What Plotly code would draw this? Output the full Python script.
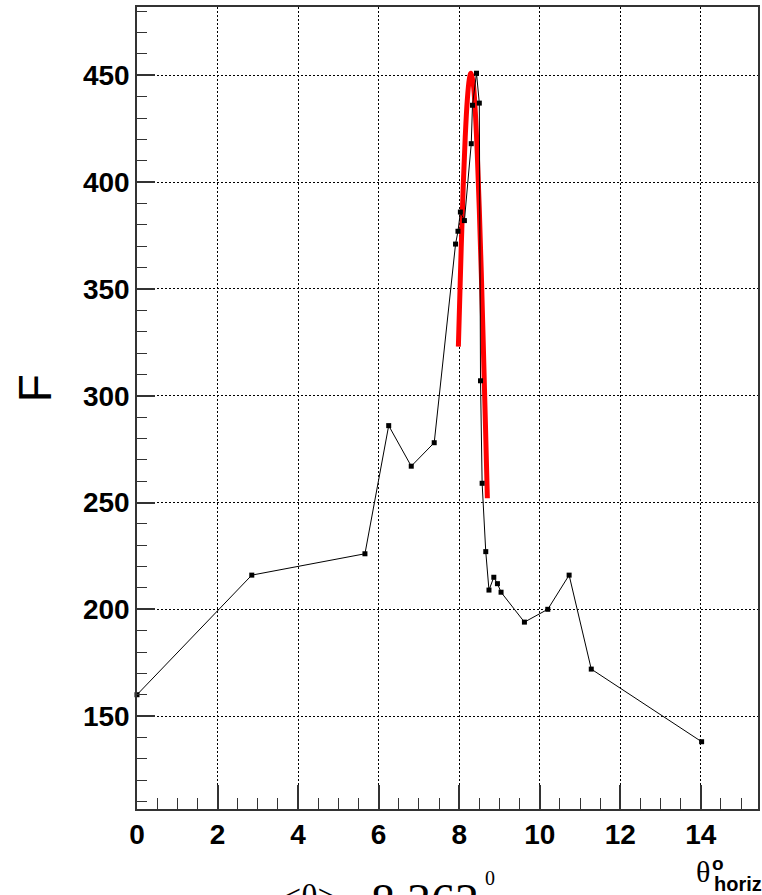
import plotly.graph_objects as go

# measured points (theta_horiz in degrees, F)
theta = [0, 2.85, 5.66, 6.25, 6.81, 7.38, 7.91, 7.97, 8.03, 8.13, 8.30, 8.33,
         8.43, 8.50, 8.53, 8.57, 8.66, 8.74, 8.86, 8.95, 9.04, 9.62, 10.20,
         10.73, 11.28, 14.02]
F_vals = [160, 216, 226, 286, 267, 278, 371, 377, 386, 382, 418, 436,
          451, 437, 307, 259, 227, 209, 215, 212, 208, 194, 200,
          216, 172, 138]

# fitted peak curve
fit_x = [7.98, 8.05, 8.10, 8.15, 8.20, 8.25, 8.29, 8.35, 8.40, 8.45, 8.50,
         8.55, 8.60, 8.65, 8.70]
fit_y = [323, 369, 398, 421, 438, 448, 451, 446, 433, 413, 387, 357, 323,
         288, 252]

mean_text = "8.362"

fig = go.Figure()
fig.add_trace(go.Scatter(x=fit_x, y=fit_y, mode="lines",
                         line=dict(color="#ff0000", width=5, shape="spline"),
                         showlegend=False, hoverinfo="skip"))
fig.add_trace(go.Scatter(x=theta, y=F_vals, mode="lines+markers",
                         line=dict(color="black", width=1),
                         marker=dict(symbol="square", size=5, color="black"),
                         cliponaxis=False, showlegend=False))

tickfont = dict(family="Liberation Sans", size=28, color="black", weight="bold")
grid_dash = "2px,2px"

fig.update_layout(
    width=762, height=895,
    margin=dict(l=137, r=2, t=7, b=86),
    paper_bgcolor="white", plot_bgcolor="white",
    xaxis=dict(range=[0, 15.42], dtick=2, tick0=0,
               showline=True, mirror=True, linecolor="#333", linewidth=1.5,
               ticks="inside", ticklen=24, tickwidth=1.5, tickcolor="#333",
               showgrid=True, gridcolor="black", griddash=grid_dash, gridwidth=1,
               zeroline=False, tickfont=tickfont,
               minor=dict(ticks="inside", ticklen=11, dtick=0.5, tickwidth=1.2,
                          tickcolor="#333", showgrid=False)),
    yaxis=dict(range=[106.5, 482], dtick=50, tick0=0,
               showline=True, mirror=True, linecolor="#333", linewidth=1.5,
               ticks="inside", ticklen=18, tickwidth=1.5, tickcolor="#333",
               showgrid=True, gridcolor="black", griddash=grid_dash, gridwidth=1,
               zeroline=False, tickfont=tickfont,
               minor=dict(ticks="inside", ticklen=10, dtick=10, tickwidth=1.2,
                          tickcolor="#333", showgrid=False)),
)

def ann(text, x, y, size, family="Liberation Serif", weight="normal",
        xanchor="left", yanchor="top", angle=0):
    fig.add_annotation(text=text, xref="paper", yref="paper", x=x, y=y,
                       xanchor=xanchor, yanchor=yanchor, textangle=angle,
                       showarrow=False,
                       font=dict(family=family, size=size, color="black",
                                 weight=weight))

# y-axis title
ann("F", -0.1637, 0.525, 46, family="Liberation Sans",
    xanchor="center", yanchor="middle", angle=-90)

# x-axis title pieces
ann("θ", 0.911, -0.078, 30, xanchor="center", yanchor="middle")
ann("o", 0.9358, -0.068, 19, family="Liberation Sans", weight="bold",
    xanchor="center", yanchor="middle")
ann("horiz", 0.926, -0.094, 20, family="Liberation Sans", weight="bold",
    xanchor="left", yanchor="middle")

# mean value text (partly cut at the bottom edge, as in the original)
ann("&lt;θ&gt;", 0.2295, -0.0840, 34)
ann("=", 0.326, -0.0880, 48)
ann(mean_text, 0.374, -0.0785, 48)
ann("0", 0.557, -0.0700, 20)

fig.write_html("out.html")
